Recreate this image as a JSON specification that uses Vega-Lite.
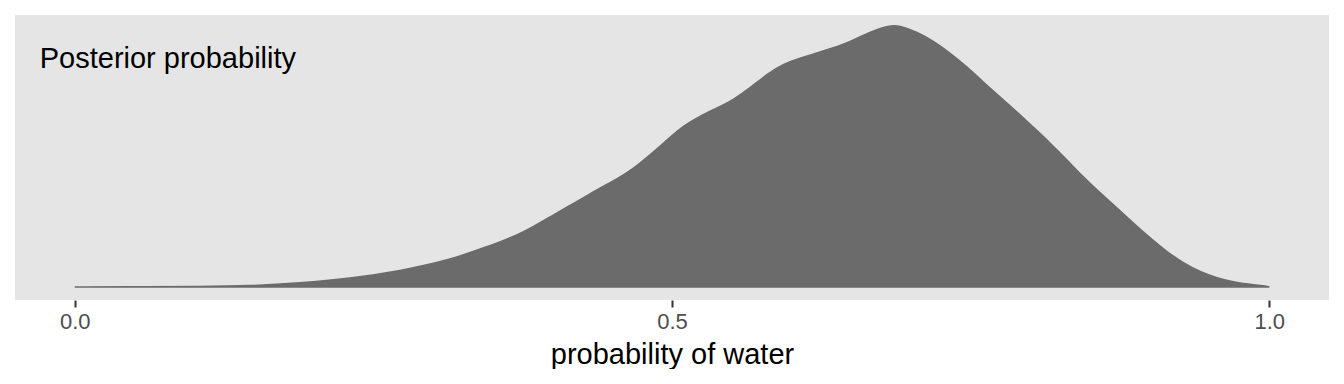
{
  "$schema": "https://vega.github.io/schema/vega-lite/v6.json",
  "width": 1314,
  "height": 285,
  "padding": {"left": 15, "top": 15, "right": 15, "bottom": 0},
  "background": "white",
  "config": {
    "view": {"fill": "#e5e5e5", "stroke": null},
    "font": "Liberation Sans"
  },
  "datasets": {
    "density": [
      {"p": 0.0, "d": 0.0},
      {"p": 0.0628, "d": 0.002},
      {"p": 0.1047, "d": 0.003},
      {"p": 0.1466, "d": 0.01},
      {"p": 0.1884, "d": 0.04},
      {"p": 0.2303, "d": 0.085},
      {"p": 0.2722, "d": 0.16},
      {"p": 0.3141, "d": 0.27},
      {"p": 0.3417, "d": 0.39},
      {"p": 0.3559, "d": 0.45},
      {"p": 0.3702, "d": 0.52},
      {"p": 0.3836, "d": 0.60},
      {"p": 0.3978, "d": 0.70},
      {"p": 0.4121, "d": 0.80},
      {"p": 0.4255, "d": 0.89},
      {"p": 0.4397, "d": 0.99},
      {"p": 0.4539, "d": 1.08},
      {"p": 0.4673, "d": 1.18},
      {"p": 0.4816, "d": 1.32},
      {"p": 0.4958, "d": 1.47},
      {"p": 0.5092, "d": 1.61},
      {"p": 0.5235, "d": 1.71},
      {"p": 0.5377, "d": 1.79},
      {"p": 0.5511, "d": 1.87},
      {"p": 0.5653, "d": 1.99},
      {"p": 0.5796, "d": 2.13},
      {"p": 0.5930, "d": 2.23},
      {"p": 0.6072, "d": 2.29},
      {"p": 0.6214, "d": 2.34},
      {"p": 0.6348, "d": 2.39},
      {"p": 0.6491, "d": 2.45},
      {"p": 0.6633, "d": 2.54},
      {"p": 0.6826, "d": 2.62},
      {"p": 0.6910, "d": 2.61},
      {"p": 0.7052, "d": 2.55},
      {"p": 0.7186, "d": 2.46},
      {"p": 0.7328, "d": 2.34},
      {"p": 0.7471, "d": 2.20},
      {"p": 0.7605, "d": 2.05},
      {"p": 0.7747, "d": 1.90},
      {"p": 0.7889, "d": 1.75},
      {"p": 0.8023, "d": 1.60},
      {"p": 0.8166, "d": 1.44},
      {"p": 0.8308, "d": 1.27},
      {"p": 0.8442, "d": 1.10},
      {"p": 0.8585, "d": 0.94},
      {"p": 0.8727, "d": 0.79},
      {"p": 0.8861, "d": 0.64},
      {"p": 0.9003, "d": 0.49},
      {"p": 0.9146, "d": 0.35},
      {"p": 0.9280, "d": 0.24},
      {"p": 0.9422, "d": 0.15},
      {"p": 0.9564, "d": 0.09},
      {"p": 0.9698, "d": 0.05},
      {"p": 0.9841, "d": 0.025},
      {"p": 0.9983, "d": 0.01},
      {"p": 1.0, "d": 0.0}
    ],
    "label": [
      {"p": -0.0293, "d": 2.187, "text": "Posterior probability"}
    ]
  },
  "layer": [
    {
      "data": {"name": "density"},
      "mark": {"type": "area", "interpolate": "basis", "color": "#6b6b6b", "stroke": "#6b6b6b", "strokeWidth": 1.5, "fillOpacity": 1},
      "encoding": {
        "x": {
          "field": "p", "type": "quantitative",
          "scale": {"domain": [-0.05, 1.05], "nice": false, "zero": false},
          "axis": {
            "values": [0, 0.5, 1],
            "format": ".1f",
            "domain": false,
            "grid": false,
            "ticks": true,
            "tickColor": "#333333",
            "tickWidth": 2,
            "tickSize": 7,
            "labelFontSize": 22,
            "labelColor": "#4d4d4d",
            "labelPadding": 4,
            "title": "probability of water",
            "titleFontSize": 29,
            "titleFontWeight": "normal",
            "titleColor": "#000000",
            "titlePadding": 8
          }
        },
        "y": {
          "field": "d", "type": "quantitative",
          "scale": {"domain": [-0.13, 2.72], "nice": false, "zero": false},
          "axis": null
        }
      }
    },
    {
      "data": {"name": "label"},
      "mark": {"type": "text", "align": "left", "baseline": "alphabetic", "fontSize": 29, "color": "#000000"},
      "encoding": {
        "x": {"field": "p", "type": "quantitative"},
        "y": {"field": "d", "type": "quantitative"},
        "text": {"field": "text"}
      }
    }
  ]
}
